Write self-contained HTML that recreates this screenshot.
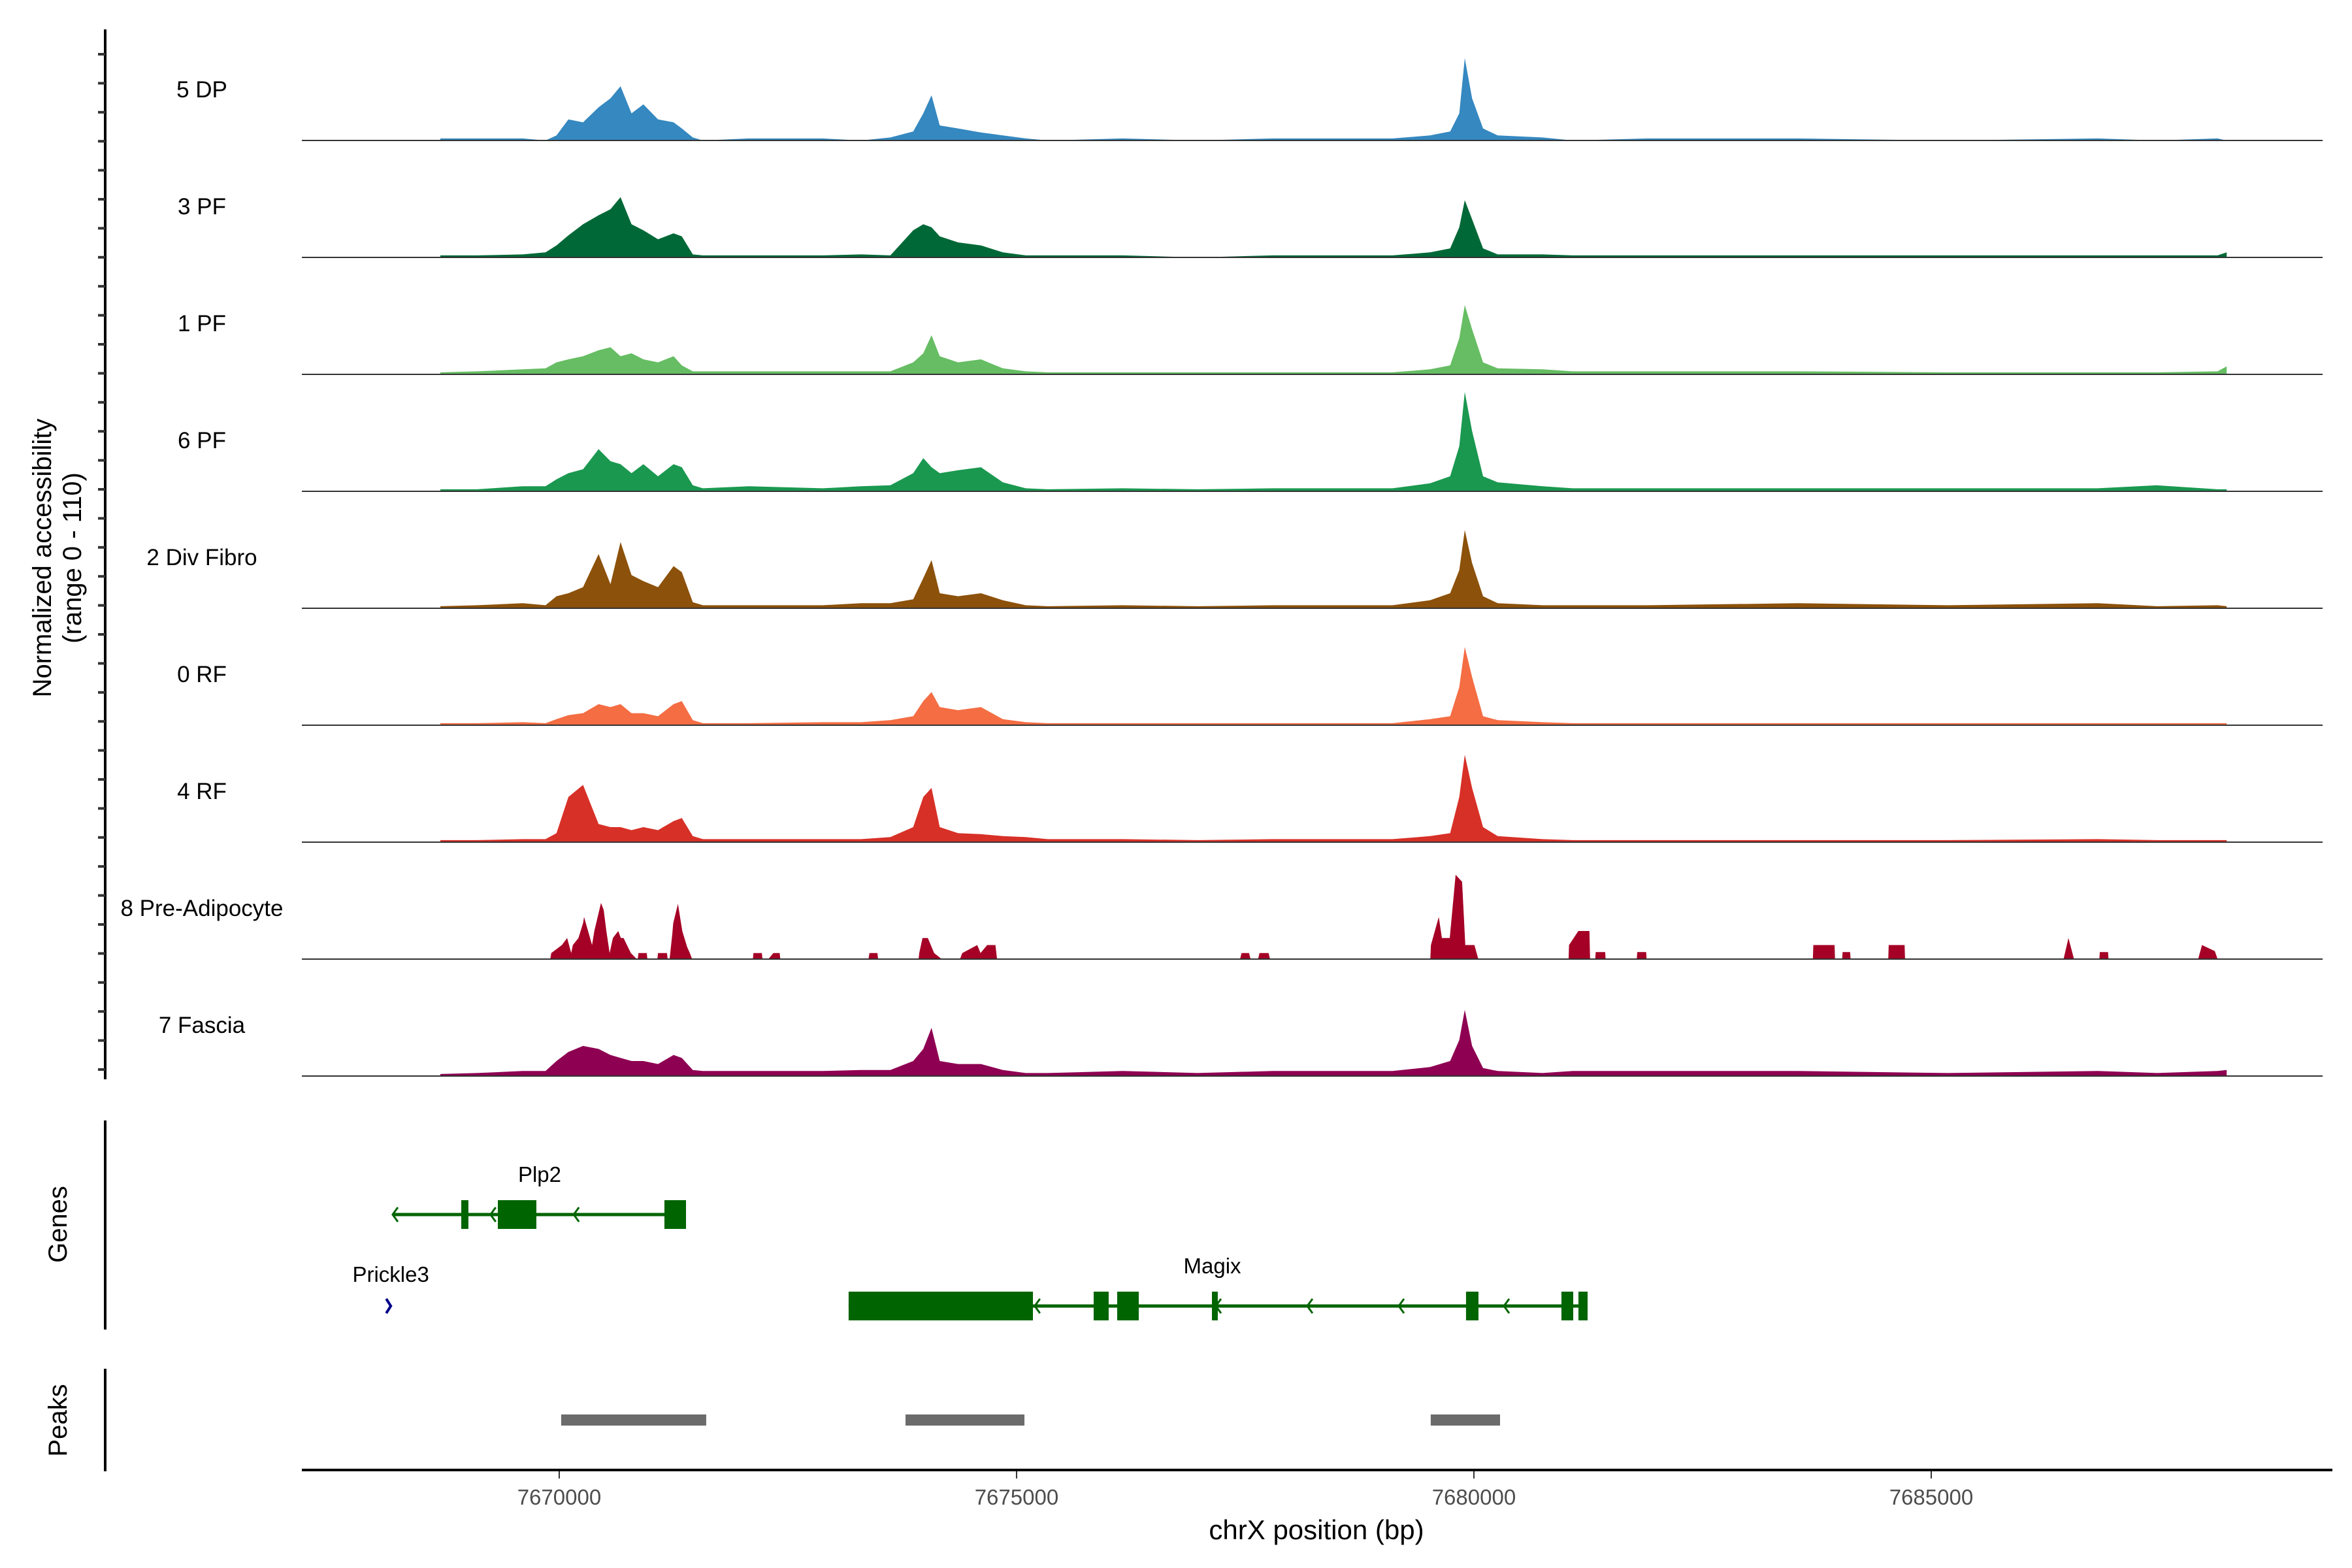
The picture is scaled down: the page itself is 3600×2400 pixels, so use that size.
<!DOCTYPE html>
<html><head><meta charset="utf-8"><style>
html,body{margin:0;padding:0;background:#fff}
svg{display:block;font-family:"Liberation Sans",Arial,sans-serif}
</style></head><body>
<svg id="chart" width="3600" height="2400" viewBox="0 0 3600 2400" xmlns="http://www.w3.org/2000/svg">
<g id="tracks"></g>
<g id="genes"></g>
<g id="peaks"></g>
<g id="axes"></g>
<text transform="translate(78,854) rotate(-90)" text-anchor="middle" font-size="40" fill="#000">Normalized accessibility</text>
<text transform="translate(124,854) rotate(-90)" text-anchor="middle" font-size="40" fill="#000">(range 0 - 110)</text>
<text transform="translate(102,1874) rotate(-90)" text-anchor="middle" font-size="40" fill="#000">Genes</text>
<text transform="translate(102,2174) rotate(-90)" text-anchor="middle" font-size="40" fill="#000">Peaks</text>
<text x="2015" y="2356" text-anchor="middle" font-size="42" fill="#000">chrX position (bp)</text>
</svg>
<script>
const positions=[7668700,7669100,7669600,7669850,7669970,7670100,7670260,7670430,7670560,7670670,7670790,7670920,7671080,7671250,7671340,7671460,7671570,7672070,7672880,7673300,7673620,7673870,7673980,7674070,7674160,7674360,7674610,7674850,7675100,7675340,7676160,7676980,7677800,7679110,7679520,7679740,7679840,7679900,7679980,7680100,7680260,7680750,7681080,7681900,7683540,7685180,7686820,7687470,7688130,7688230];
const trackNames=["5 DP","3 PF","1 PF","6 PF","2 Div Fibro","0 RF","4 RF","8 Pre-Adipocyte","7 Fascia"];
const trackColors=["#3588c0","#006837","#66bd63","#1a9850","#8c510a","#f46d43","#d73027","#a50026","#8e0152"];
const dp5=[2,2,2,0,5,21,18,33,42,54,27,36,21,18,12,3,0,2,2,0,3,9,27,45,15,12,8,5,2,0,2,0,2,2,5,9,27,82,42,12,5,3,0,2,2,0,2,0,2,0];
const pf3=[2,2,3,5,12,22,33,42,48,60,33,27,18,24,21,3,2,2,2,3,2,27,33,30,21,15,12,5,2,2,2,0,2,2,5,9,30,57,38,9,3,3,2,2,2,2,2,2,2,5];
const pf1=[2,3,5,6,12,15,18,24,27,18,21,15,12,18,9,3,3,3,3,3,3,12,21,39,18,12,15,6,3,2,2,2,2,2,5,9,36,69,45,12,6,5,3,3,3,2,2,2,3,8];
const pf6=[2,2,5,5,12,18,22,42,30,27,18,27,15,27,24,6,3,5,3,5,6,18,33,24,18,21,24,9,3,2,3,2,3,3,8,15,45,99,60,15,9,5,3,3,3,3,3,6,2,2];
const divFibro=[2,3,5,3,12,15,21,54,24,66,33,27,21,42,36,6,3,3,3,5,5,9,30,48,15,12,15,8,3,2,3,2,3,3,8,15,38,78,45,12,5,3,3,3,5,3,5,2,3,2];
const rf0=[2,2,3,2,6,10,12,21,18,21,12,12,9,21,24,5,2,2,3,3,5,9,24,33,18,15,18,6,3,2,2,2,2,2,6,9,38,78,48,9,5,3,2,2,2,2,2,2,2,2];
const rf4=[2,2,3,3,9,45,57,18,15,15,12,15,12,21,24,6,3,3,3,3,5,15,45,54,15,9,8,6,5,3,3,2,3,3,6,9,45,87,54,15,6,3,2,2,2,2,3,2,2,2];
const preAdipoPos=[7669902,7669913,7670029,7670087,7670131,7670149,7670210,7670261,7670272,7670359,7670384,7670457,7670486,7670515,7670551,7670587,7670645,7670674,7670703,7670783,7670848,
7670859,7670866,7670957,7670964,7671073,7671080,7671178,7671185,
7671207,7671236,7671247,7671298,7671345,7671399,7671428,7671453,
7672117,7672124,7672215,7672222,7672287,7672341,7672410,7672417,
7673381,7673392,7673479,7673486,
7673929,7673936,7673972,7674030,7674099,7674182,
7674382,7674407,7674570,7674606,7674679,7674769,7674787,
7677443,7677460,7677542,7677558,7677640,7677656,7677755,7677771,
7679523,7679530,7679616,7679650,7679736,7679800,7679871,7679906,7680006,7680048,
7681035,7681040,7681142,7681263,7681270,
7681327,7681332,7681435,7681440,
7681781,7681786,7681883,7681888,
7683706,7683711,7683943,7683948,
7684026,7684031,7684113,7684118,
7684530,7684535,7684709,7684714,
7686447,7686500,7686561,
7686838,7686843,7686933,7686938,
7687918,7687960,7688100,7688131];
const preAdipo=[0,6,14,21,6,14,21,36,42,14,28,56,49,28,6,21,28,21,21,6,0,
0,6,6,0,0,6,6,0,
0,25,36,55,28,12,6,0,
0,6,6,0,0,6,6,0,
0,6,6,0,
0,6,21,21,6,0,
0,6,14,6,14,14,0,
0,6,6,0,0,6,6,0,
0,14,42,21,21,84,77,14,14,0,
0,14,28,28,0,
0,7,7,0,
0,7,7,0,
0,14,14,0,
0,7,7,0,
0,14,14,0,
0,21,0,
0,7,7,0,
0,14,8,0];
const fascia=[2,3,5,5,15,24,30,27,21,18,15,15,12,21,18,6,5,5,5,6,6,15,27,48,15,12,12,6,3,3,5,3,5,5,9,15,36,66,30,8,5,3,5,5,5,3,5,3,5,6];
const trackValues=[dp5,pf3,pf1,pf6,divFibro,rf0,rf4,preAdipo,fascia];
const trackPositions=[positions,positions,positions,positions,positions,positions,positions,preAdipoPos,positions];
const xTicks=[7670000,7675000,7680000,7685000];
const plp2Exons=[[7668929,7669007],[7669329,7669750],[7671150,7671386]];
const plp2Span=[7668190,7671386];
const plp2Arrows=[7668200,7669270,7670180];
const magixExons=[[7673164,7675179],[7675843,7676007],[7676100,7676336],[7677136,7677200],[7679914,7680050],[7680957,7681086],[7681143,7681243]];
const magixSpan=[7673164,7681243];
const magixArrows=[7675220,7677200,7678200,7679200,7680350];
const prickle3Pos=7668130;
const peakRanges=[[7670021,7671607],[7673786,7675086],[7679528,7680286]];

const NS="http://www.w3.org/2000/svg";
const X0=462,X1=3555,BP0=7667186,BPPX=0.140;
function xs(bp){return X0+(bp-BP0)*BPPX;}
const baseY0=215,trackStep=179,yMaxVal=110,yMaxPx=169;
function ys(v,base){return base-v/yMaxVal*yMaxPx;}
function mk(tag,attrs,parent){const e=document.createElementNS(NS,tag);for(const k in attrs)e.setAttribute(k,attrs[k]);parent.appendChild(e);return e;}

const gT=document.getElementById('tracks');
trackValues.forEach((vals,i)=>{
  const base=baseY0+i*trackStep;
  const pos=trackPositions[i];
  const g=mk('g',{},gT);
  
  
  let d='M'+xs(pos[0]).toFixed(1)+','+base;
  pos.forEach((p,j)=>{d+=' L'+xs(p).toFixed(1)+','+ys(vals[j],base).toFixed(1);});
  d+=' L'+xs(pos[pos.length-1]).toFixed(1)+','+base+' Z';
  const a=mk('path',{d:d,fill:trackColors[i]},g);
  
  
  const l=mk('line',{x1:X0,x2:X1,y1:base,y2:base,stroke:'#333','stroke-width':2},g);
  
  
  const t=mk('text',{x:309,y:base-66,'text-anchor':'middle','font-size':35,fill:'#000'},g);
  t.textContent=trackNames[i];
  
  
});

const gG=document.getElementById('genes');
function gene(name,span,exons,arrows,lineY,labelX){
  const g=mk('g',{},gG);
  
  
  mk('line',{x1:xs(span[0]),x2:xs(span[1]),y1:lineY,y2:lineY,stroke:'#006400','stroke-width':5},g);
  exons.forEach(e=>{const r=mk('rect',{x:xs(e[0]),y:lineY-22,width:Math.max(xs(e[1])-xs(e[0]),6),height:44,fill:'#006400'},g);
    
    });
  arrows.forEach(a=>{const x=xs(a);mk('path',{d:'M'+(x+5)+','+(lineY-11)+' L'+(x-3)+','+lineY+' L'+(x+5)+','+(lineY+11),fill:'none',stroke:'#006400','stroke-width':3},g);});
  const t=mk('text',{x:labelX,y:lineY-50,'text-anchor':'middle','font-size':33,fill:'#000'},g);
  t.textContent=name;
  
  
}
gene('Plp2',plp2Span,plp2Exons,plp2Arrows,1859,xs(7669786));
gene('Magix',magixSpan,magixExons,magixArrows,1999,xs(7677140));
const pg=mk('g',{},gG);


const px=xs(prickle3Pos);
mk('path',{d:'M'+(px-3)+',1988 L'+(px+4)+',1999 L'+(px-3)+',2010',fill:'none',stroke:'#00008b','stroke-width':4},pg);
const pt=mk('text',{x:px+4,y:1962,'text-anchor':'middle','font-size':33,fill:'#000'},pg);
pt.textContent='Prickle3';

const gP=document.getElementById('peaks');
peakRanges.forEach(r=>{const e=mk('rect',{x:xs(r[0]),y:2165,width:xs(r[1])-xs(r[0]),height:17,fill:'#6b6b6b'},gP);
  
  });

const gA=document.getElementById('axes');
mk('line',{x1:161,x2:161,y1:45,y2:1652,stroke:'#000','stroke-width':4},gA);
for(let y=83;y<1652;y+=44.4){mk('line',{x1:150,x2:161,y1:y,y2:y,stroke:'#333','stroke-width':4},gA);}
mk('line',{x1:161,x2:161,y1:1715,y2:2035,stroke:'#000','stroke-width':4},gA);
mk('line',{x1:161,x2:161,y1:2095,y2:2252,stroke:'#000','stroke-width':4},gA);
const xl=mk('line',{x1:X0,x2:3570,y1:2250,y2:2250,stroke:'#000','stroke-width':4},gA);


xTicks.forEach(t=>{const x=xs(t);
  mk('line',{x1:x,x2:x,y1:2252,y2:2263,stroke:'#333','stroke-width':2},gA);
  const tx=mk('text',{x:x,y:2303,'text-anchor':'middle','font-size':33,fill:'#4d4d4d'},gA);
  tx.textContent=String(t);
  
  });
</script>
</body></html>
